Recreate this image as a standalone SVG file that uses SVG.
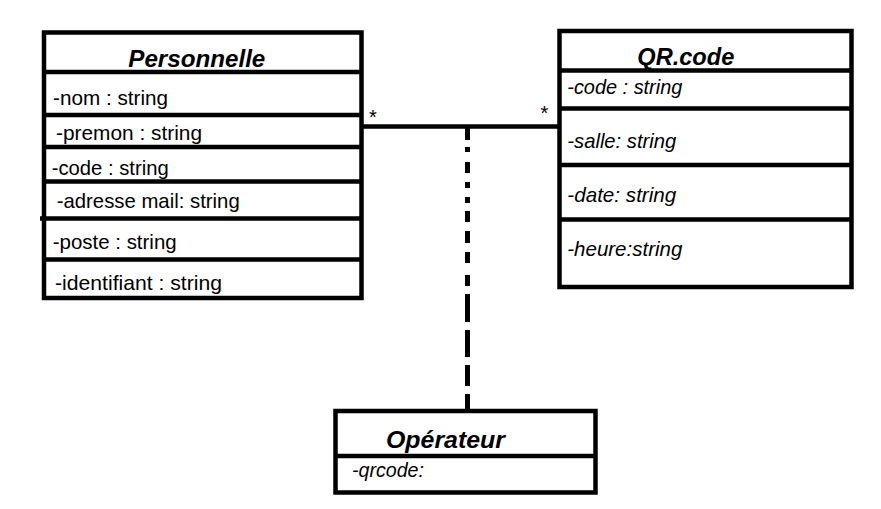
<svg xmlns="http://www.w3.org/2000/svg" width="881" height="509" viewBox="0 0 881 509">
  <style>
    .box { fill: #ffffff; stroke: #000; stroke-width: 4.5; }
    .sep { stroke: #000; stroke-width: 4.5; fill: none; }
    .title { font-family: "Liberation Sans", Arial, sans-serif; font-size: 23px; font-weight: bold; font-style: italic; fill: #000; }
    .attr { font-family: "Liberation Sans", Arial, sans-serif; font-size: 21px; fill: #000; }
    .attri { font-family: "Liberation Sans", Arial, sans-serif; font-size: 21px; font-style: italic; fill: #000; }
    .mult { font-family: "Liberation Sans", Arial, sans-serif; font-size: 20px; fill: #000; }
    .assoc { stroke: #000; stroke-width: 4.5; fill: none; }
    .dash { stroke: #000; stroke-width: 5; fill: none; }
  </style>
  <rect width="881" height="509" fill="#ffffff"/>

  <g id="connectors">
    <line class="assoc" x1="361.5" y1="126.5" x2="559.5" y2="126.5"/>
    <path class="dash" d="M467.5 126.5 V140 M467.5 147 V152 M467.5 162 V173 M467.5 182 V188 M467.5 197 V203 M467.5 211 V222 M467.5 231 V243 M467.5 252 V263 M467.5 275 V286 M467.5 294 V322 M467.5 330 V357 M467.5 365 V386 M467.5 394 V411"/>
    <text class="mult" x="373" y="123.5" text-anchor="middle">*</text>
    <text class="mult" x="544.5" y="119.5" text-anchor="middle">*</text>
  </g>

  <g id="personnelle">
    <rect class="box" x="44" y="32.5" width="317.5" height="265.5"/>
    <path class="sep" d="M44 72 H361.5 M44 115 H361.5 M44 147 H361.5 M44 181.5 H361.5 M40 218.5 H361.5 M44 259.5 H361.5"/>
    <text class="title" x="128.3" y="67.3" textLength="137" lengthAdjust="spacingAndGlyphs">Personnelle</text>
    <text class="attr" x="53" y="105" textLength="115" lengthAdjust="spacingAndGlyphs">-nom : string</text>
    <text class="attr" x="56" y="140" textLength="146" lengthAdjust="spacingAndGlyphs">-premon : string</text>
    <text class="attr" x="51.7" y="175" textLength="117" lengthAdjust="spacingAndGlyphs">-code : string</text>
    <text class="attr" x="56.7" y="208" textLength="183" lengthAdjust="spacingAndGlyphs">-adresse mail: string</text>
    <text class="attr" x="52.7" y="249" textLength="124" lengthAdjust="spacingAndGlyphs">-poste : string</text>
    <text class="attr" x="55" y="290" textLength="167" lengthAdjust="spacingAndGlyphs">-identifiant : string</text>
  </g>

  <g id="qrcode">
    <rect class="box" x="559.5" y="31" width="292" height="256"/>
    <path class="sep" d="M559.5 70.5 H851.5 M559.5 108.5 H851.5 M559.5 165 H851.5 M559.5 219.5 H851.5"/>
    <text class="title" x="637.3" y="65" textLength="97" lengthAdjust="spacingAndGlyphs">QR.code</text>
    <text class="attri" x="567.3" y="94" textLength="115" lengthAdjust="spacingAndGlyphs">-code : string</text>
    <text class="attri" x="567.3" y="148.3" textLength="109" lengthAdjust="spacingAndGlyphs">-salle: string</text>
    <text class="attri" x="567.3" y="201.7" textLength="109" lengthAdjust="spacingAndGlyphs">-date: string</text>
    <text class="attri" x="567.3" y="256" textLength="115" lengthAdjust="spacingAndGlyphs">-heure:string</text>
  </g>

  <g id="operateur">
    <rect class="box" x="335.5" y="411" width="260" height="81.5"/>
    <path class="sep" d="M335.5 456 H595.5"/>
    <text class="title" x="386" y="448" textLength="119" lengthAdjust="spacingAndGlyphs">Opérateur</text>
    <text class="attri" x="352" y="477" textLength="72" lengthAdjust="spacingAndGlyphs">-qrcode:</text>
  </g>
</svg>
